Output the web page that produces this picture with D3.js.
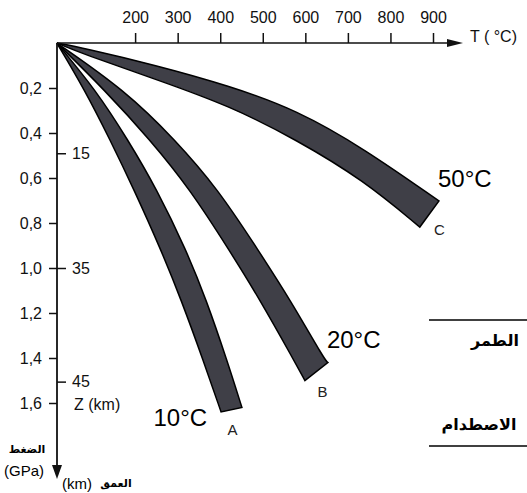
<!DOCTYPE html>
<html>
<head>
<meta charset="utf-8">
<script src="https://cdn.jsdelivr.net/npm/d3@7"></script>
<style>
  body { margin: 0; background: #fff; }
  svg { display: block; }
  .tick text { font-family: "Liberation Sans", Arial, sans-serif; font-size: 16px; fill: #111; }
  .tick line { stroke: #111; stroke-width: 1.5; }
</style>
</head>
<body>
<div id="chart"></div>
<script>
// temperature ticks (°C), pressure ticks (GPa), depth ticks (km) with their pressure
const tempTicks = [200, 300, 400, 500, 600, 700, 800, 900];
const pressureTicks = [0.2, 0.4, 0.6, 0.8, 1.0, 1.2, 1.4, 1.6];
const depthTicks = [15, 35, 45];
const depthPressure = [0.49, 1.0, 1.505];

// bands: [T, P] along each edge, from the surface corner to the end
const bandNames = ['A', 'B', 'C'];
const bandGradients = ['10°C', '20°C', '50°C'];
const bandEdgeA1 = [[16, 0], [82, 0.21], [141, 0.43], [197, 0.65], [261, 0.92], [308, 1.14], [360, 1.41], [402, 1.64]];
const bandEdgeA2 = [[16, 0], [108, 0.21], [183, 0.43], [251, 0.65], [320, 0.92], [367, 1.14], [416, 1.41], [451, 1.62]];
const bandEdgeB1 = [[16, 0], [129, 0.21], [235, 0.43], [329, 0.65], [421, 0.92], [493, 1.14], [573, 1.41], [599, 1.50]];
const bandEdgeB2 = [[16, 0], [176, 0.21], [294, 0.43], [395, 0.65], [489, 0.92], [564, 1.14], [646, 1.41], [653, 1.42]];
const bandEdgeC1 = [[16, 0], [78, 0.022], [247, 0.098], [423, 0.191], [580, 0.298], [736, 0.467], [914, 0.702]];
const bandEdgeC2 = [[16, 0], [78, 0.049], [247, 0.16], [423, 0.28], [580, 0.431], [736, 0.609], [869, 0.818]];

const bands = bandNames.map((name, i) => ({
  name: name,
  gradient: bandGradients[i],
  edge1: [bandEdgeA1, bandEdgeB1, bandEdgeC1][i],
  edge2: [bandEdgeA2, bandEdgeB2, bandEdgeC2][i]
}));

const width = 527, height = 493;
const origin = { x: 57, y: 43 };

const svg = d3.select('#chart').append('svg')
  .attr('width', width)
  .attr('height', height);

const x = d3.scaleLinear().domain([0, 900]).range([50, 433]);
const y = d3.scaleLinear().domain([0, 1.6]).range([43, 403]);

// bands
const line = d3.line()
  .x(d => x(d[0]))
  .y(d => y(d[1]))
  .curve(d3.curveBasis);

svg.selectAll('.band')
  .data(bands)
  .enter()
  .append('path')
  .attr('class', 'band')
  .attr('d', d => line(d.edge1) + 'L' + line(d.edge2.slice().reverse()).slice(1) + 'Z')
  .attr('fill', '#3f3f47')
  .attr('stroke', '#000')
  .attr('stroke-width', 1.5)
  .attr('stroke-linejoin', 'miter');

// band labels
const ends = bands.map(d => {
  const a = d.edge1[d.edge1.length - 1], b = d.edge2[d.edge2.length - 1];
  return { a: [x(a[0]), y(a[1])], b: [x(b[0]), y(b[1])] };
});
const letterOffset = [[1, 25], [6, 25], [10, 21]];
const gradLayout = [
  { anchor: 'end', at: 'a', dx: -14, dy: 14 },
  { anchor: 'start', at: 'b', dx: -1, dy: -15 },
  { anchor: 'start', at: 'a', dx: -1, dy: -14 }
];

svg.selectAll('.letter')
  .data(bands)
  .enter()
  .append('text')
  .attr('class', 'letter')
  .attr('x', (d, i) => (ends[i].a[0] + ends[i].b[0]) / 2 + letterOffset[i][0])
  .attr('y', (d, i) => (ends[i].a[1] + ends[i].b[1]) / 2 + letterOffset[i][1])
  .attr('text-anchor', 'middle')
  .style('font-family', '"Liberation Sans", Arial, sans-serif')
  .style('font-size', '15px')
  .style('fill', '#222')
  .text(d => d.name);

svg.selectAll('.gradient')
  .data(bands)
  .enter()
  .append('text')
  .attr('class', 'gradient')
  .attr('x', (d, i) => ends[i][gradLayout[i].at][0] + gradLayout[i].dx)
  .attr('y', (d, i) => ends[i][gradLayout[i].at][1] + gradLayout[i].dy)
  .attr('text-anchor', (d, i) => gradLayout[i].anchor)
  .style('font-family', '"Liberation Sans", Arial, sans-serif')
  .style('font-size', '24px')
  .style('fill', '#000')
  .text(d => d.gradient);

// temperature axis
const xAxis = svg.append('g')
  .attr('transform', `translate(0,${origin.y})`)
  .call(d3.axisTop(x).tickValues(tempTicks).tickSize(10).tickPadding(10).tickFormat(d3.format('d')));
xAxis.select('.domain').remove();

svg.append('line')
  .attr('x1', origin.x).attr('y1', origin.y)
  .attr('x2', 450).attr('y2', origin.y)
  .attr('stroke', '#111').attr('stroke-width', 1.5);
svg.append('path')
  .attr('d', `M447,${origin.y - 4}L463,${origin.y}L447,${origin.y + 4}Z`)
  .attr('fill', '#111');
svg.append('text')
  .attr('x', 470).attr('y', 42)
  .style('font-family', '"Liberation Sans", Arial, sans-serif')
  .style('font-size', '16px')
  .style('fill', '#111')
  .text('T ( °C)');

// pressure axis (left) and depth axis (right of the line)
const pAxis = svg.append('g')
  .attr('transform', `translate(${origin.x},0)`)
  .call(d3.axisLeft(y).tickValues(pressureTicks).tickSize(8).tickPadding(7)
    .tickFormat(d => d3.format('.1f')(d).replace('.', ',')));
pAxis.select('.domain').remove();

const zAxis = svg.append('g')
  .attr('transform', `translate(${origin.x},0)`)
  .call(d3.axisRight(y).tickValues(depthPressure).tickSize(9).tickPadding(6)
    .tickFormat((d, i) => depthTicks[i]));
zAxis.select('.domain').remove();

svg.append('line')
  .attr('x1', origin.x).attr('y1', origin.y)
  .attr('x2', origin.x).attr('y2', 468)
  .attr('stroke', '#111').attr('stroke-width', 1.8);
svg.append('path')
  .attr('d', `M${origin.x - 5},465L${origin.x},479L${origin.x + 5},465Z`)
  .attr('fill', '#111');

svg.append('text')
  .attr('x', 74).attr('y', 410)
  .style('font-family', '"Liberation Sans", Arial, sans-serif')
  .style('font-size', '16px')
  .style('fill', '#111')
  .text('Z (km)');

svg.append('text')
  .attr('x', 27).attr('y', 453)
  .attr('text-anchor', 'middle')
  .style('font-family', '"DejaVu Sans", sans-serif')
  .style('font-size', '11px')
  .style('font-weight', 'bold')
  .text('الضغط');
svg.append('text')
  .attr('x', 4).attr('y', 476)
  .style('font-family', '"Liberation Sans", Arial, sans-serif')
  .style('font-size', '15px')
  .text('(GPa)');
svg.append('text')
  .attr('x', 62).attr('y', 489)
  .style('font-family', '"Liberation Sans", Arial, sans-serif')
  .style('font-size', '15px')
  .text('(km)');
svg.append('text')
  .attr('x', 116).attr('y', 487)
  .attr('text-anchor', 'middle')
  .style('font-family', '"DejaVu Sans", sans-serif')
  .style('font-size', '11px')
  .style('font-weight', 'bold')
  .text('العمق');

// cropped table on the right
svg.append('line')
  .attr('x1', 429).attr('x2', width).attr('y1', 320).attr('y2', 320)
  .attr('stroke', '#000').attr('stroke-width', 1.5);
svg.append('line')
  .attr('x1', 429).attr('x2', width).attr('y1', 446).attr('y2', 446)
  .attr('stroke', '#000').attr('stroke-width', 1.5);
svg.append('text')
  .attr('x', 495).attr('y', 346)
  .attr('text-anchor', 'middle')
  .style('font-family', '"DejaVu Sans", sans-serif')
  .style('font-size', '16px')
  .style('font-weight', 'bold')
  .text('الطمر');
svg.append('text')
  .attr('x', 479).attr('y', 430)
  .attr('text-anchor', 'middle')
  .style('font-family', '"DejaVu Sans", sans-serif')
  .style('font-size', '16px')
  .style('font-weight', 'bold')
  .text('الاصطدام');
</script>
</body>
</html>
